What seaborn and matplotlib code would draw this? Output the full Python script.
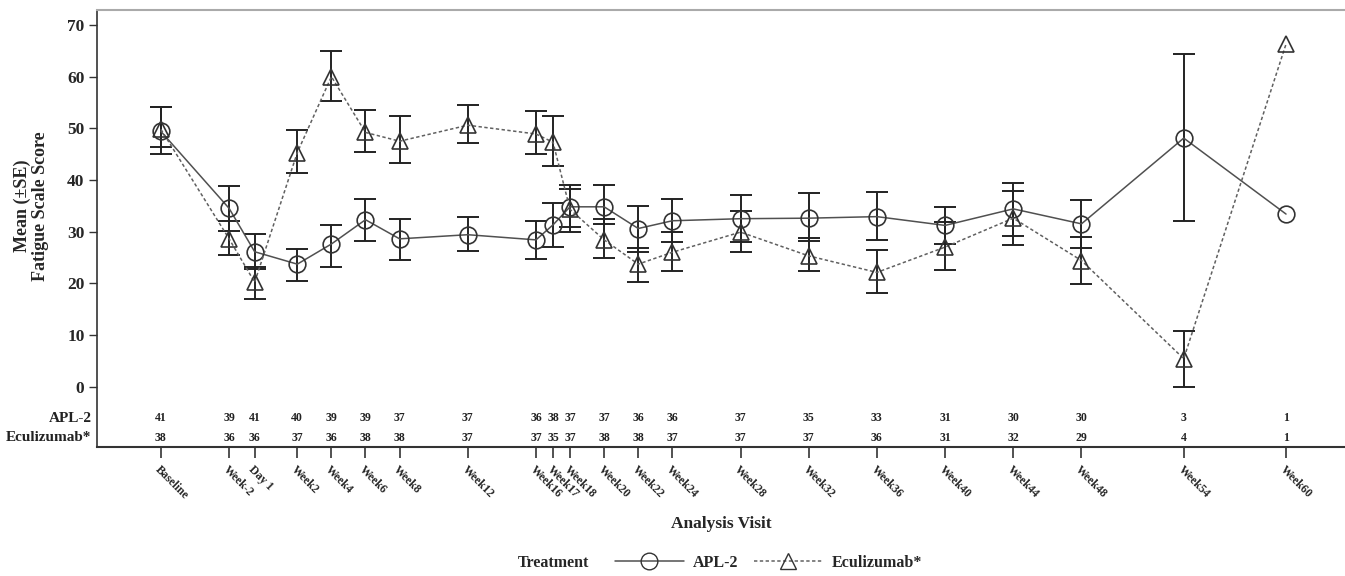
import numpy as np
import pandas as pd
import matplotlib
matplotlib.use("Agg")
import matplotlib.pyplot as plt
from matplotlib.lines import Line2D
import seaborn as sns

# ---------------- data ----------------
visits = ["Baseline", "Week-2", "Day 1", "Week2", "Week4", "Week6", "Week8", "Week12",
          "Week16", "Week17", "Week18", "Week20", "Week22", "Week24", "Week28", "Week32",
          "Week36", "Week40", "Week44", "Week48", "Week54", "Week60"]
visit_x = [-6, -2, -0.5, 2, 4, 6, 8, 12, 16, 17, 18, 20, 22, 24, 28, 32, 36, 40, 44, 48, 54, 60]

apl_mean = [49.4, 34.5, 26.1, 23.7, 27.6, 32.3, 28.6, 29.4, 28.4, 31.3, 34.8, 34.8, 30.6, 32.1,
            32.5, 32.6, 32.9, 31.2, 34.4, 31.5, 48.1, 33.4]
apl_low = [45.0, 30.1, 22.7, 20.5, 23.1, 28.2, 24.6, 26.3, 24.7, 27.1, 30.8, 31.5, 26.1, 27.9,
           28.0, 28.1, 28.4, 27.6, 29.2, 26.9, 32.1, np.nan]
apl_high = [54.2, 38.9, 29.5, 26.6, 31.3, 36.3, 32.5, 32.8, 32.1, 35.5, 39.0, 39.0, 35.0, 36.4,
            37.0, 37.4, 37.6, 34.8, 39.4, 36.1, 64.3, np.nan]

ecu_mean = [49.8, 28.6, 20.2, 45.3, 60.0, 49.2, 47.5, 50.6, 48.9, 47.3, 34.3, 28.4, 23.7, 26.0,
            29.9, 25.3, 22.1, 27.0, 32.6, 24.4, 5.4, 66.3]
ecu_low = [46.3, 25.4, 17.0, 41.3, 55.3, 45.5, 43.2, 47.1, 45.0, 42.7, 30.0, 24.9, 20.3, 22.4,
           26.0, 22.3, 18.1, 22.6, 27.4, 19.9, 0.0, np.nan]
ecu_high = [54.2, 32.0, 23.2, 49.6, 65.0, 53.5, 52.3, 54.5, 53.4, 52.4, 38.2, 32.4, 26.9, 30.0,
            34.0, 28.8, 26.5, 31.8, 37.8, 28.9, 10.8, np.nan]

apl_n = [41, 39, 41, 40, 39, 39, 37, 37, 36, 38, 37, 37, 36, 36, 37, 35, 33, 31, 30, 30, 3, 1]
ecu_n = [38, 36, 36, 37, 36, 38, 38, 37, 37, 35, 37, 38, 38, 37, 37, 37, 36, 31, 32, 29, 4, 1]

treatments = ["APL-2", "Eculizumab*"]
row_labels = ["APL-2", "Eculizumab*"]

# ---------------- style ----------------
sns.set_style("white")
SERIF = ["Liberation Serif", "DejaVu Serif"]
plt.rcParams["font.family"] = SERIF
plt.rcParams["font.weight"] = "bold"

df = pd.DataFrame({
    "x": visit_x * 2,
    "mean": apl_mean + ecu_mean,
    "Treatment": [treatments[0]] * len(visit_x) + [treatments[1]] * len(visit_x),
})

fig = plt.figure(figsize=(13.45, 5.76), dpi=100)
ax_h = 437.5 / 576
ax = fig.add_axes([97 / 1345, 129 / 576, 1 - 97 / 1345, ax_h])

line_col = "#505050"
bar_col = "#222222"

# error bars
for mean, lo, hi in [(apl_mean, apl_low, apl_high), (ecu_mean, ecu_low, ecu_high)]:
    m = np.array(mean)
    l = np.array(lo)
    h = np.array(hi)
    ok = ~np.isnan(l)
    ax.errorbar(np.array(visit_x)[ok], m[ok], yerr=[m[ok] - l[ok], h[ok] - m[ok]],
                fmt="none", ecolor=bar_col, elinewidth=1.4, capsize=8, capthick=1.4, zorder=3)

sns.lineplot(data=df, x="x", y="mean", hue="Treatment", style="Treatment",
             palette={"APL-2": line_col, "Eculizumab*": "#606060"},
             markers={"APL-2": "o", "Eculizumab*": "^"},
             dashes={"APL-2": "", "Eculizumab*": (2.2, 1.6)},
             markersize=12, markerfacecolor="none", markeredgecolor="#333333",
             markeredgewidth=1.2, linewidth=1.1, legend=False, ax=ax, zorder=4, sort=False)

# axes limits and ticks
ax.set_xlim(-9.75, 63.46)
ax.set_ylim(-11.7, 73.0)
ax.set_yticks(range(0, 71, 10))
ax.set_yticklabels([str(v) for v in range(0, 71, 10)], fontsize=12.5, fontweight="bold",
                   family=SERIF)
ax.set_xticks(visit_x)
ax.set_xticklabels(visits, rotation=-45, ha="left", va="top", rotation_mode="anchor",
                   fontsize=8.5, fontweight="bold", family=SERIF)
ax.tick_params(axis="y", direction="out", length=6, width=1, color="#333333", pad=3, left=True)
ax.tick_params(axis="x", direction="out", length=8, width=1.2, color="#333333", pad=4, bottom=True)

ax.spines["right"].set_visible(False)
ax.spines["top"].set_color("#aaaaaa")
ax.spines["top"].set_linewidth(1.5)
ax.spines["left"].set_color("#333333")
ax.spines["bottom"].set_color("#333333")
ax.spines["left"].set_linewidth(1.2)
ax.spines["bottom"].set_linewidth(1.5)

ax.set_xlabel("Analysis Visit", fontsize=12.5, fontweight="bold", family=SERIF)
ax.xaxis.set_label_coords(0.5, -(524 - 447) / 437.5)
ax.xaxis.label.set_va("center")
ax.set_ylabel("Mean (\u00b1SE)\nFatigue Scale Score", fontsize=13, fontweight="bold",
              family=SERIF, linespacing=1.1)
ax.yaxis.set_label_coords(-(97 - 49) / 1248, (447 - 206) / 437.5)
ax.yaxis.label.set_va("bottom")

# at-risk table inside the plot area
row_y = [-6.1, -9.9]
for ns, yy in zip([apl_n, ecu_n], row_y):
    for xv, n in zip(visit_x, ns):
        ax.text(xv, yy, str(n), ha="center", va="center", fontsize=8.5,
                fontweight="bold", family=SERIF, color="#222222")
for lab, yy in zip(row_labels, row_y):
    ax.annotate(lab, xy=(0, yy), xycoords=("axes fraction", "data"), xytext=(-4, 0),
                textcoords="offset points", ha="right", va="center", fontsize=11,
                fontweight="bold", family=SERIF, color="#222222", annotation_clip=False)

# legend
leg_y = 1 - 563 / 576
fig.text(518 / 1345, leg_y, "Treatment", ha="left", va="center", fontsize=11.5,
         fontweight="bold", family=SERIF)
handles = [
    Line2D([], [], color=line_col, lw=1.1, marker="o", markersize=12,
           markerfacecolor="none", markeredgecolor="#333333"),
    Line2D([], [], color="#606060", lw=1.1, ls=(0, (2.2, 1.6)), marker="^", markersize=12,
           markerfacecolor="none", markeredgecolor="#333333"),
]
fig.legend(handles, treatments, loc="center left", bbox_to_anchor=(615 / 1345, leg_y),
           ncol=2, frameon=False, handlelength=4.3, handletextpad=0.55, columnspacing=1.0,
           prop={"family": SERIF, "weight": "bold", "size": 11.5}, borderaxespad=0,
           borderpad=0)

fig.savefig("out.png", dpi=100)
